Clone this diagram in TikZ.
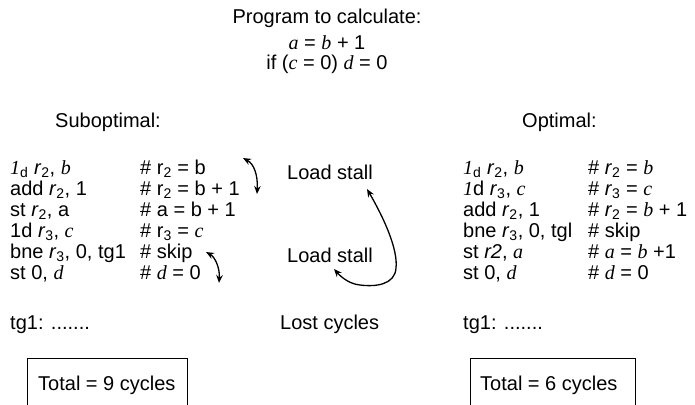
\documentclass[tikz,border=0pt]{standalone}
\usepackage{fontspec}
\setmainfont{Liberation Sans}
\newfontfamily\tms{Liberation Serif}
\usetikzlibrary{arrows.meta}
\newcommand\vv[1]{{\tms\itshape #1}}
\newcommand\rr[1]{\textit{r}\textsubscript{#1}}
\tikzset{
  txt/.style={anchor=base west, inner sep=0pt, font=\fontsize{20}{22}\selectfont},
  ctr/.style={anchor=base, inner sep=0pt, font=\fontsize{20}{22}\selectfont},
  arr/.style={line width=1.3pt, {Stealth[length=8pt,width=6.5pt]}-{Stealth[length=8pt,width=6.5pt]}},
  frame/.style={line width=0.9pt}
}
\begin{document}
\begin{tikzpicture}[x=1pt,y=-1pt]
\useasboundingbox (0,0) rectangle (695,404);
% title
\node[ctr] (t1) at (327,24) {Program to calculate:};
\node[ctr] (t2) at (327,49) {\vv{a} = \vv{b} + 1};
\node[ctr] (t3) at (327,70) {if (\vv{c} = 0) \vv{d} = 0};
\node[txt] (sub) at (55,127) {Suboptimal:};
\node[txt] (opt) at (522,127) {Optimal:};
% left code
\node[txt] (l1) at (10,174) {{\tms\itshape 1}\textsubscript{d} \rr{2}, \vv{b}};
\node[txt] (l2) at (10,195) {add \rr{2}, 1};
\node[txt] (l3) at (10,216) {st \rr{2}, a};
\node[txt] (l4) at (10,237) {1d \rr{3}, \vv{c}};
\node[txt] (l5) at (10,258) {bne \rr{3}, 0, tg1};
\node[txt] (l6) at (10,279) {st 0, \vv{d}};
\node[txt] (m1) at (140,174) {\# r\textsubscript{2} = b};
\node[txt] (m2) at (140,195) {\# r\textsubscript{2} = b + 1};
\node[txt] (m3) at (140,216) {\# a = b + 1};
\node[txt] (m4) at (140,237) {\# r\textsubscript{3} = \vv{c}};
\node[txt] (m5) at (140,258) {\# skip};
\node[txt] (m6) at (140,279) {\# \vv{d} = 0};
\node[txt] (ltg) at (10,329) {tg1: .......};
% middle
\node[txt] (ls1) at (287,179) {Load stall};
\node[txt] (ls2) at (287,262) {Load stall};
\node[txt] (lc) at (280,329) {Lost cycles};
% right code
\node[txt] (r1) at (463,174) {{\tms\itshape 1}\textsubscript{d} \rr{2}, \vv{b}};
\node[txt] (r2) at (463,195) {{\tms\itshape 1}d \rr{3}, \vv{c}};
\node[txt] (r3) at (463,216) {add \rr{2}, 1};
\node[txt] (r4) at (463,237) {bne \rr{3}, 0, tgl};
\node[txt] (r5) at (463,258) {st \textit{r2}, \vv{a}};
\node[txt] (r6) at (463,279) {st 0, \vv{d}};
\node[txt] (n1) at (588,174) {\# \rr{2} = \vv{b}};
\node[txt] (n2) at (588,195) {\# \rr{3} = \vv{c}};
\node[txt] (n3) at (588,216) {\# \rr{2} = \vv{b} + 1};
\node[txt] (n4) at (588,237) {\# skip};
\node[txt] (n5) at (588,258) {\# \vv{a} = \vv{b} +1};
\node[txt] (n6) at (588,279) {\# \vv{d} = 0};
\node[txt] (rtg) at (463,329) {tg1: .......};
% totals
\node[txt] (tot1) at (38,390) {Total = 9 cycles};
\node[txt] (tot2) at (480,390) {Total = 6 cycles};
\coordinate (bl1) at (27,405); \coordinate (bl2) at (187,405);
\coordinate (br1) at (470,405); \coordinate (br2) at (635,405);
\draw[frame] (bl1) -- (27,358) -- (187,358) -- (bl2);
\draw[frame] (br1) -- (470,358) -- (635,358) -- (br2);
% arrows
\coordinate (a1) at (243,158); \coordinate (b1) at (257,194);
\coordinate (a2) at (206,252); \coordinate (b2) at (219,283);
\coordinate (bt) at (367,189); \coordinate (bl) at (334,269);
\draw[arr] (a1) .. controls (254,164) and (258,175) .. (b1);
\draw[arr] (a2) .. controls (215,257) and (220,268) .. (b2);
\draw[arr] (bt) .. controls (385,220) and (398,250) .. (396,268)
  .. controls (395,285) and (375,287) .. (360,285)
  .. controls (350,284) and (342,278) .. (bl);
\end{tikzpicture}
\end{document}
